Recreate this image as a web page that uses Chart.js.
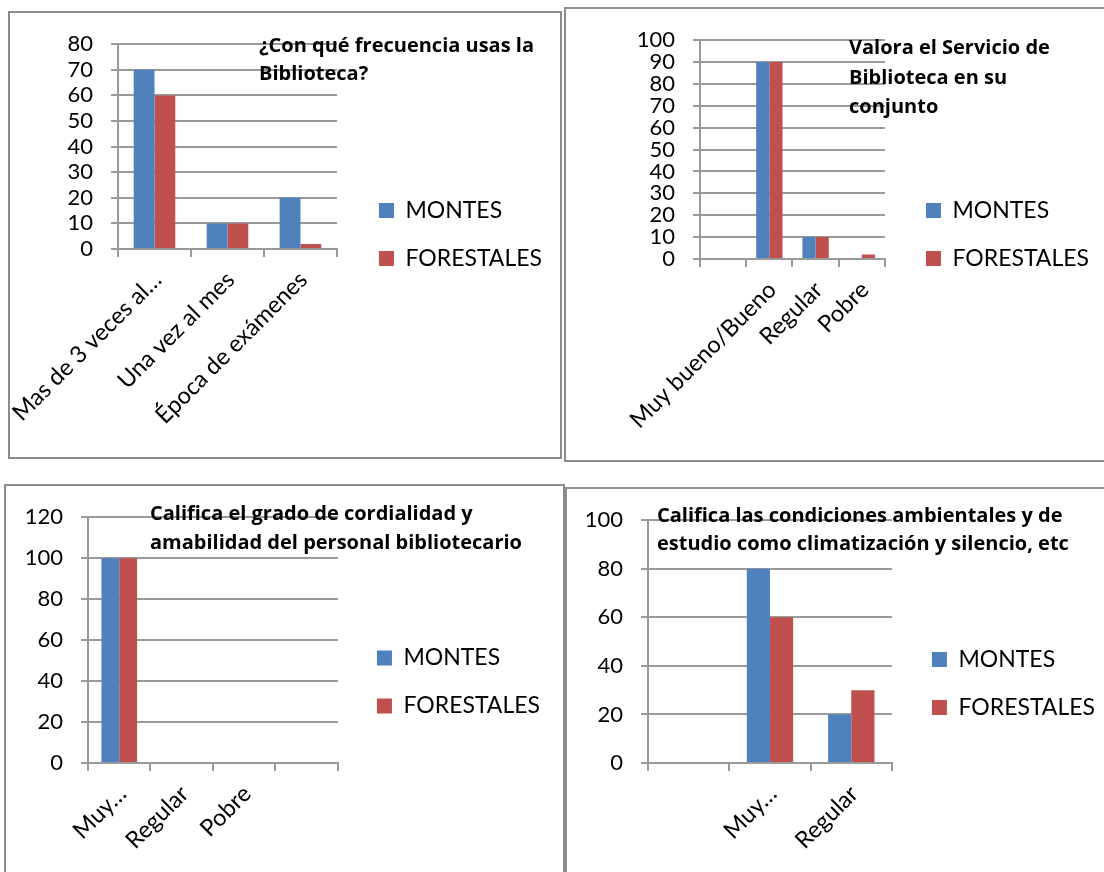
<!DOCTYPE html>
<html>
<head>
<meta charset="utf-8">
<script src="https://cdn.jsdelivr.net/npm/chart.js@4.4.1/dist/chart.umd.min.js"></script>
<style>
  body { margin: 0; background: #fff; width: 1104px; height: 872px; overflow: hidden; position: relative; }
  .box { position: absolute; border: 2px solid #8c8c8c; box-sizing: border-box; }
  canvas { position: absolute; }
  .title { position: absolute; font-family: "Open Sans", Lato, sans-serif; font-weight: bold; font-size: 20px; color: #000; white-space: nowrap; }
</style>
</head>
<body>
<div class="box" style="left:8px;top:11px;width:554px;height:448px"></div>
<div class="box" style="left:564px;top:7px;width:542px;height:455px"></div>
<div class="box" style="left:4px;top:484px;width:561px;height:400px"></div>
<div class="box" style="left:565px;top:487px;width:541px;height:400px"></div>

<canvas id="c1" width="549" height="443" style="left:10px;top:13px"></canvas>
<canvas id="c2" width="537" height="451" style="left:566px;top:9px"></canvas>
<canvas id="c3" width="557" height="392" style="left:6px;top:486px"></canvas>
<canvas id="c4" width="538" height="389" style="left:567px;top:489px"></canvas>

<div class="title" id="t1" style="left:259px;top:31px;line-height:28px"></div>
<div class="title" id="t2" style="left:849px;top:32px;line-height:29.5px"></div>
<div class="title" id="t3" style="left:150px;top:498px;line-height:29px"></div>
<div class="title" id="t4" style="left:657px;top:501px;line-height:28px"></div>

<script>
const seriesNames = ["MONTES", "FORESTALES"];

// ¿Con qué frecuencia usas la Biblioteca?
const freqTitle = ["¿Con qué frecuencia usas la", "Biblioteca?"];
const freqCats = ["Mas de 3 veces al…", "Una vez al mes", "Época de exámenes"];
const freqMontes = [70, 10, 20];
const freqForestales = [60, 10, 2];
const freqTicks = [0, 80, 10];

// Valora el Servicio de Biblioteca
const servTitle = ["Valora el Servicio de", "Biblioteca en su", "conjunto"];
const servCats = ["", "Muy bueno/Bueno", "Regular", "Pobre"];
const servMontes = [0, 90, 10, 0];
const servForestales = [0, 90, 10, 2];
const servTicks = [0, 100, 10];

// cordialidad
const cordTitle = ["Califica el grado de cordialidad y", "amabilidad del personal bibliotecario"];
const cordCats = ["Muy…", "Regular", "Pobre", ""];
const cordMontes = [100, 0, 0, 0];
const cordForestales = [100, 0, 0, 0];
const cordTicks = [0, 120, 20];

// condiciones ambientales
const ambTitle = ["Califica las condiciones ambientales y de", "estudio como climatización y silencio, etc"];
const ambCats = ["", "Muy…", "Regular"];
const ambMontes = [0, 80, 20];
const ambForestales = [0, 60, 30];
const ambTicks = [0, 100, 20];

const FONT = 'Lato, "Open Sans", sans-serif';
const BLUE = "#4F81BD";
const RED = "#C0504D";
const GRID = "#9a9a9a";

function setTitle(id, lines) {
    const el = document.getElementById(id);
    lines.forEach(function (line, i) {
        if (i > 0) el.appendChild(document.createElement("br"));
        el.appendChild(document.createTextNode(line));
    });
}

// geo: top gap, y axis width, x axis height, gap before legend, right padding
function makeChart(id, cats, montes, forestales, ticks, geo) {
    const ctx = document.getElementById(id).getContext("2d");
    return new Chart(ctx, {
        type: "bar",
        data: {
            labels: cats,
            datasets: [
                { label: seriesNames[0], data: montes, backgroundColor: BLUE },
                { label: seriesNames[1], data: forestales, backgroundColor: RED }
            ]
        },
        options: {
            responsive: false,
            animation: false,
            devicePixelRatio: 1,
            categoryPercentage: 0.57,
            barPercentage: 1.0,
            layout: { padding: { top: 0, left: 0, bottom: 0, right: geo[4] } },
            scales: {
                x: {
                    grid: { display: true, drawOnChartArea: false, drawTicks: true, tickLength: 8, color: GRID, lineWidth: 2 },
                    border: { color: GRID, width: 2 },
                    ticks: {
                        autoSkip: false, maxRotation: 45, minRotation: 45, padding: 9, labelOffset: 3,
                        color: "#000", font: { family: FONT, size: 23.5 }
                    },
                    afterFit: function (s) {
                        s.height = geo[2];
                        s.paddingLeft = 0;
                        s.paddingRight = 0;
                    }
                },
                y: {
                    min: ticks[0], max: ticks[1],
                    grid: { color: GRID, lineWidth: 2, tickLength: 7 },
                    border: { color: GRID, width: 2 },
                    ticks: {
                        stepSize: ticks[2], autoSkip: false, padding: 18,
                        color: "#000", font: { family: FONT, size: 22 }
                    },
                    afterFit: function (s) { s.width = geo[1]; }
                },
                padTop: {
                    type: "linear", axis: "x", position: "top", display: true,
                    grid: { display: false }, border: { display: false }, ticks: { display: false },
                    afterFit: function (s) { s.height = geo[0]; }
                },
                padRight: {
                    type: "linear", axis: "y", position: "right", display: true,
                    grid: { display: false }, border: { display: false }, ticks: { display: false },
                    afterFit: function (s) { s.width = geo[3]; }
                }
            },
            plugins: {
                title: { display: false },
                tooltip: { enabled: false },
                legend: {
                    position: "right",
                    maxWidth: 300,
                    labels: {
                        boxWidth: 15, boxHeight: 15, padding: 25,
                        color: "#000", font: { family: FONT, size: 23 }
                    }
                }
            }
        }
    });
}

setTitle("t1", freqTitle);
setTitle("t2", servTitle);
setTitle("t3", cordTitle);
setTitle("t4", ambTitle);

makeChart("c1", freqCats, freqMontes, freqForestales, freqTicks, [29, 108, 207, 17, 7]);
makeChart("c2", servCats, servMontes, servForestales, servTicks, [29, 134, 201, 16, 4]);
makeChart("c3", cordCats, cordMontes, cordForestales, cordTicks, [28, 82, 115, 14, 13]);
makeChart("c4", ambCats, ambMontes, ambForestales, ambTicks, [29, 81, 115, 15, 0]);
</script>
</body>
</html>
